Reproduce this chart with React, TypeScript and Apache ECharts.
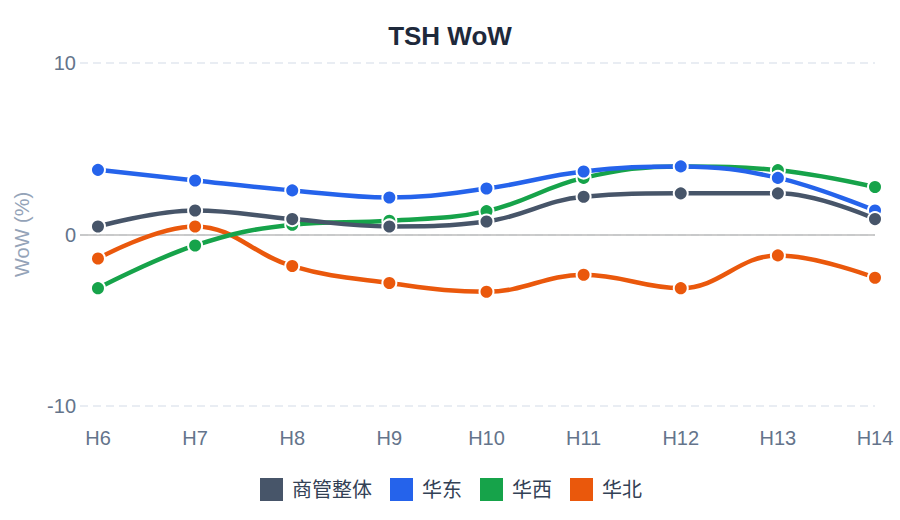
import React, { useEffect, useRef } from "react";
import * as echarts from "echarts";

const categories = ["H6", "H7", "H8", "H9", "H10", "H11", "H12", "H13", "H14"];
const seriesNames = ["商管整体", "华东", "华西", "华北"];
const overall = [0.47, 1.4, 0.9, 0.47, 0.76, 2.2, 2.4, 2.4, 0.9];
const east = [3.77, 3.15, 2.57, 2.16, 2.68, 3.67, 3.97, 3.3, 1.4];
const west = [-3.13, -0.64, 0.57, 0.8, 1.36, 3.3, 3.97, 3.75, 2.77];
const north = [-1.4, 0.47, -1.84, -2.83, -3.34, -2.35, -3.13, -1.22, -2.52];
const colors = ["#475569", "#2563eb", "#16a34a", "#ea580c"];
const yTicks = [-10, 0, 10];

const FONT = "'Liberation Sans', Arial, 'Noto Sans CJK SC', sans-serif";

export default function App() {
  const ref = useRef<HTMLDivElement>(null);
  useEffect(() => {
    document.body.style.margin = "0";
    if (!ref.current) return;
    const chart = echarts.init(ref.current, undefined, { renderer: "svg" });
    const values = [overall, east, west, north];
    const series: any[] = values.map((vals, i) => ({
      name: seriesNames[i],
      type: "line",
      smooth: 0.4,
      z: 10 - i,
      data: vals.map((v, j) => [j, v]),
      symbol: "circle",
      symbolSize: 14,
      showSymbol: true,
      lineStyle: { width: 4.5, color: colors[i] },
      itemStyle: { color: colors[i], borderColor: "#ffffff", borderWidth: 2 },
      emphasis: { disabled: true },
    }));
    series[0].markLine = {
      silent: true,
      symbol: "none",
      label: { show: false },
      lineStyle: { type: "solid", color: "#bdbdbd", width: 1.5 },
      data: [{ yAxis: 0 }],
      z: 1,
    };
    chart.setOption({
      animation: false,
      color: colors,
      textStyle: { fontFamily: FONT },
      title: {
        text: "TSH WoW",
        left: "center",
        top: 18,
        textStyle: { fontSize: 26, fontWeight: "bold", color: "#1e293b", fontFamily: FONT },
      },
      legend: {
        bottom: 12,
        left: "center",
        data: seriesNames,
        icon: "rect",
        itemWidth: 25,
        itemHeight: 25,
        itemGap: 16,
        textStyle: { fontSize: 20, color: "#334155", fontFamily: FONT, padding: [0, 0, 0, 3] },
      },
      grid: { left: 80, right: 25, top: 63, bottom: 114, containLabel: false },
      xAxis: {
        type: "value",
        min: -0.185,
        max: categories.length - 1,
        axisLine: { show: false },
        axisTick: { show: false },
        splitLine: { show: false },
        axisLabel: {
          customValues: categories.map((_, i) => i),
          formatter: (v: number) => categories[Math.round(v)] ?? "",
          fontSize: 20,
          color: "#64748b",
          margin: 22,
          fontFamily: FONT,
        },
      },
      yAxis: {
        type: "value",
        min: yTicks[0],
        max: yTicks[yTicks.length - 1],
        interval: 10,
        name: "WoW (%)",
        nameLocation: "middle",
        nameGap: 48,
        nameTextStyle: { fontSize: 20, color: "#94a3b8", fontFamily: FONT },
        axisLine: { show: false },
        axisTick: { show: false },
        axisLabel: { fontSize: 20, color: "#64748b", margin: 4, fontFamily: FONT },
        splitLine: {
          lineStyle: { type: [8, 5], color: "#e2e8f0", width: 1.5 },
        },
      },
      series,
    });
    return () => chart.dispose();
  }, []);
  return <div ref={ref} style={{ width: 900, height: 520 }} />;
}
